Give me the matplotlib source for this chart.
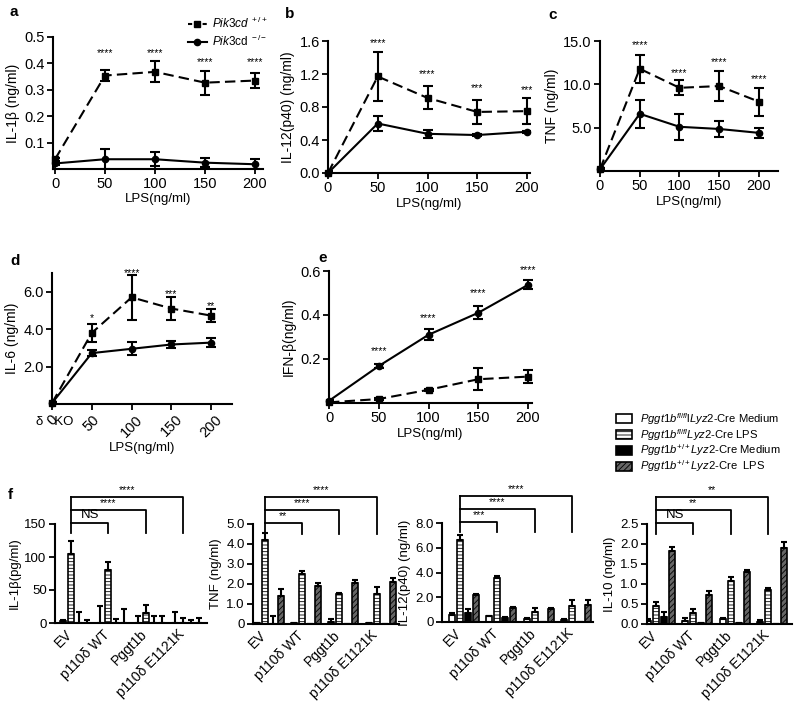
import matplotlib
matplotlib.use('Agg')
import matplotlib.pyplot as plt
from matplotlib.patches import Rectangle
from matplotlib.lines import Line2D
import numpy as np

plt.rcParams['font.family'] = ['Liberation Sans', 'DejaVu Sans']
plt.rcParams['mathtext.fontset'] = 'custom'
plt.rcParams['mathtext.rm'] = 'Liberation Sans'
plt.rcParams['mathtext.it'] = 'Liberation Sans:italic'
plt.rcParams['mathtext.bf'] = 'Liberation Sans:bold'
plt.rcParams['hatch.linewidth'] = 0.6
plt.rcParams['axes.linewidth'] = 1.5

# ---- data: panels a-e (LPS dose response) ----
lps = [0, 50, 100, 150, 200]

il1b_wt = [0.037, 0.354, 0.368, 0.327, 0.335]
il1b_wt_err = [0.005, 0.022, 0.04, 0.045, 0.03]
il1b_ko = [0.021, 0.037, 0.037, 0.024, 0.018]
il1b_ko_err = [0.005, 0.038, 0.027, 0.016, 0.019]
il1b_stars = ['****', '****', '****', '****']
il1b_star_y = [0.44, 0.44, 0.405, 0.405]

il12_wt = [0.0, 1.17, 0.91, 0.74, 0.75]
il12_wt_err = [0.02, 0.3, 0.14, 0.14, 0.16]
il12_ko = [0.0, 0.6, 0.475, 0.46, 0.5]
il12_ko_err = [0.02, 0.09, 0.05, 0.01, 0.01]
il12_stars = ['****', '****', '***', '***']
il12_star_y = [1.58, 1.2, 1.03, 1.01]

tnf_wt = [0.2, 11.8, 9.6, 9.8, 8.0]
tnf_wt_err = [0.1, 1.6, 0.85, 1.7, 1.6]
tnf_ko = [0.2, 6.6, 5.1, 4.85, 4.4]
tnf_ko_err = [0.1, 1.6, 1.5, 0.9, 0.6]
tnf_stars = ['****', '****', '****', '****']
tnf_star_y = [14.5, 11.3, 12.6, 10.6]

il6_wt = [0.05, 3.8, 5.7, 5.1, 4.72]
il6_wt_err = [0.05, 0.5, 1.2, 0.6, 0.33]
il6_ko = [0.05, 2.72, 2.95, 3.18, 3.28]
il6_ko_err = [0.05, 0.18, 0.35, 0.2, 0.25]
il6_stars = ['*', '****', '***', '**']
il6_star_y = [4.6, 7.0, 5.9, 5.25]

ifnb_wt = [0.003, 0.018, 0.06, 0.108, 0.12]
ifnb_wt_err = [0.003, 0.004, 0.004, 0.05, 0.03]
ifnb_ko = [0.01, 0.168, 0.31, 0.41, 0.537]
ifnb_ko_err = [0.005, 0.01, 0.025, 0.03, 0.02]
ifnb_stars = ['****', '****', '****', '****']
ifnb_star_y = [0.235, 0.385, 0.5, 0.605]

# ---- data: panel f (bars) ----
f_groups = ['EV', 'p110δ WT', 'Pggt1b', 'p110δ E1121K']

f_il1b_flmed = [3, 0, 0, 0]
f_il1b_flmed_err = [2, 26, 10, 16]
f_il1b_fllps = [105, 80, 15, 0]
f_il1b_fllps_err = [19, 12, 12, 7]
f_il1b_wtmed = [0, 0, 0, 0]
f_il1b_wtmed_err = [16, 6, 11, 4]
f_il1b_wtlps = [0, 0, 0, 0]
f_il1b_wtlps_err = [5, 21, 11, 7]

f_tnf_flmed = [0.05, 0.05, 0.1, 0.03]
f_tnf_flmed_err = [0.0, 0.0, 0.15, 0.0]
f_tnf_fllps = [4.18, 2.5, 1.52, 1.52]
f_tnf_fllps_err = [0.37, 0.13, 0.05, 0.35]
f_tnf_wtmed = [0.0, 0.0, 0.0, 0.0]
f_tnf_wtmed_err = [0.38, 0.0, 0.0, 0.0]
f_tnf_wtlps = [1.42, 1.88, 2.05, 2.1]
f_tnf_wtlps_err = [0.33, 0.17, 0.15, 0.2]

f_il12_flmed = [0.6, 0.46, 0.27, 0.19]
f_il12_flmed_err = [0.1, 0.06, 0.05, 0.05]
f_il12_fllps = [6.59, 3.58, 0.81, 1.27]
f_il12_fllps_err = [0.45, 0.12, 0.35, 0.5]
f_il12_wtmed = [0.73, 0.32, 0.0, 0.0]
f_il12_wtmed_err = [0.35, 0.1, 0.0, 0.0]
f_il12_wtlps = [2.15, 1.13, 1.08, 1.35]
f_il12_wtlps_err = [0.1, 0.08, 0.05, 0.45]

f_il10_flmed = [0.08, 0.08, 0.13, 0.05]
f_il10_flmed_err = [0.05, 0.08, 0.02, 0.05]
f_il10_fllps = [0.46, 0.27, 1.08, 0.86]
f_il10_fllps_err = [0.08, 0.1, 0.1, 0.04]
f_il10_wtmed = [0.17, 0.02, 0.02, 0.01]
f_il10_wtmed_err = [0.12, 0.0, 0.0, 0.0]
f_il10_wtlps = [1.82, 0.73, 1.3, 1.9]
f_il10_wtlps_err = [0.1, 0.1, 0.05, 0.15]

f_il1b_sig = ['NS', '****', '****']
f_tnf_sig = ['**', '****', '****']
f_il12_sig = ['***', '****', '****']
f_il10_sig = ['NS', '**', '**']

f_legend_labels = [r'$\mathit{Pggt1b}^{fl/fl}$l$\mathit{Lyz2}$-Cre Medium',
                   r'$\mathit{Pggt1b}^{fl/fl}\mathit{Lyz2}$-Cre LPS',
                   r'$\mathit{Pggt1b}^{+/+}\mathit{Lyz2}$-Cre Medium',
                   r'$\mathit{Pggt1b}^{+/+}\mathit{Lyz2}$-Cre  LPS']

W, H = 800, 709
fig = plt.figure(figsize=(W / 100, H / 100), dpi=100)


def px_axes(left, top, right, bottom):
    ax = fig.add_axes([left / W, 1 - bottom / H, (right - left) / W, (bottom - top) / H])
    for s in ['top', 'right']:
        ax.spines[s].set_visible(False)
    ax.tick_params(width=1.3, length=4, labelsize=10.5, pad=2)
    return ax


def line_panel(ax, wt, wt_err, ko, ko_err, stars, star_y, xmax, ylim, yticks, ylabels, ylabel):
    for y, e, ls, mk, ms in [(wt, wt_err, (0, (5, 2.5)), 's', 5), (ko, ko_err, '-', 'o', 4.5)]:
        c = ax.errorbar(lps, y, yerr=e, color='k', ls=ls, marker=mk, ms=ms, lw=1.5,
                        capsize=3.5, elinewidth=1.5, capthick=1.5)
        c[0].set_clip_on(False)
    for x, s, sy in zip(lps[1:], stars, star_y):
        ax.text(x, sy, s, ha='center', va='center', fontsize=7.5)
    ax.set_xlim(0, xmax)
    ax.set_ylim(*ylim)
    ax.set_xticks(lps)
    ax.set_yticks(yticks)
    ax.set_yticklabels(ylabels)
    ax.set_ylabel(ylabel, fontsize=10, labelpad=3)
    ax.set_xlabel('LPS(ng/ml)', fontsize=9.5, labelpad=2)


# a
ax = px_axes(53, 37, 263, 169)
line_panel(ax, il1b_wt, il1b_wt_err, il1b_ko, il1b_ko_err, il1b_stars, il1b_star_y,
           208, (0, 0.5), [0.1, 0.2, 0.3, 0.4, 0.5], ['0.1', '0.2', '0.3', '0.4', '0.5'],
           'IL-1β (ng/ml)')
ax.set_xlim(-2, 208)
ax.tick_params(axis='x', direction='inout', length=7)
handles = [Line2D([], [], color='k', ls=(0, (2, 1.5)), marker='s', ms=5, lw=1.5),
           Line2D([], [], color='k', ls='-', marker='o', ms=4.5, lw=1.5)]
ax.legend(handles, [r'$\mathit{Pik3cd}^{\ +/+}$', r'$\mathit{Pik3}$cd$^{\ -/-}$'],
          loc='upper left', bbox_to_anchor=(188 / W, 1 - 16 / H), bbox_transform=fig.transFigure,
          frameon=False, fontsize=8.5, handlelength=1.6, handletextpad=0.4, labelspacing=0.25,
          borderpad=0, borderaxespad=0)

# b
ax = px_axes(328, 41, 530, 173)
line_panel(ax, il12_wt, il12_wt_err, il12_ko, il12_ko_err, il12_stars, il12_star_y,
           203, (0, 1.6), [0, 0.4, 0.8, 1.2, 1.6], ['0.0', '0.4', '0.8', '1.2', '1.6'],
           'IL-12(p40) (ng/ml)')

# c
ax = px_axes(600, 41, 778, 171)
line_panel(ax, tnf_wt, tnf_wt_err, tnf_ko, tnf_ko_err, tnf_stars, tnf_star_y,
           224, (0, 15), [5, 10, 15], ['5.0', '10.0', '15.0'], 'TNF (ng/ml)')

# d
ax = px_axes(52, 273, 232, 404)
line_panel(ax, il6_wt, il6_wt_err, il6_ko, il6_ko_err, il6_stars, il6_star_y,
           226, (0, 7), [2, 4, 6], ['2.0', '4.0', '6.0'], 'IL-6 (ng/ml)')
for lab in ax.get_xticklabels():
    lab.set_rotation(45)
    lab.set_ha('center')
fig.text(55 / W, 1 - 422 / H, 'δ   KO', ha='center', va='center', fontsize=9.5)

# e
ax = px_axes(329, 271, 532, 403)
line_panel(ax, ifnb_wt, ifnb_wt_err, ifnb_ko, ifnb_ko_err, ifnb_stars, ifnb_star_y,
           204, (0, 0.6), [0.2, 0.4, 0.6], ['0.2', '0.4', '0.6'], 'IFN-β(ng/ml)')

# f
conds = [
    dict(fc='white', hatch=None),
    dict(fc='white', hatch='-----'),
    dict(fc='black', hatch=None),
    dict(fc='#666666', hatch='//////'),
]
bar_step = 0.215
bar_w = 0.16


def bar_panel(ax, series, errs, sig, xlim, ylim, yticks, ylabels, ylabel):
    gx = np.arange(len(f_groups))
    for j, (vals, err) in enumerate(zip(series, errs)):
        xs = gx + (j - 1.5) * bar_step
        ax.bar(xs, vals, width=bar_w, color=conds[j]['fc'], hatch=conds[j]['hatch'],
               edgecolor='k', linewidth=1.2)
        ax.errorbar(xs, vals, yerr=[np.zeros(len(vals)), err], fmt='none', ecolor='k',
                    elinewidth=1.5, capsize=2.5, capthick=1.5)
    ax.set_xlim(*xlim)
    ax.set_ylim(*ylim)
    ax.set_yticks(yticks)
    ax.set_yticklabels(ylabels)
    ax.set_xticks(gx)
    ax.set_xticklabels(f_groups, rotation=45, ha='right', fontsize=10)
    ax.tick_params(axis='x', length=0, pad=3)
    ax.tick_params(axis='y', labelsize=9.5)
    ax.set_ylabel(ylabel, fontsize=9.5, labelpad=3)
    # significance brackets between the fl/fl LPS bars
    tr = ax.get_xaxis_transform()
    x0 = gx[0] - 0.5 * bar_step
    levels = [1.01, 1.14, 1.27]
    lows = 0.905
    ax.plot([x0, x0], [lows, levels[-1]], color='k', lw=1.3, transform=tr, clip_on=False)
    for k, (lev, s) in enumerate(zip(levels, sig)):
        x1 = gx[k + 1] - 0.5 * bar_step
        ax.plot([x0, x1, x1], [lev, lev, lows], color='k', lw=1.3, transform=tr, clip_on=False)
        ax.text((x0 + x1) / 2, lev + 0.02, s, ha='center', va='bottom', transform=tr,
                fontsize=9.5 if s == 'NS' else 7.5)


ax = px_axes(55, 524, 207, 623)
bar_panel(ax, [f_il1b_flmed, f_il1b_fllps, f_il1b_wtmed, f_il1b_wtlps],
          [f_il1b_flmed_err, f_il1b_fllps_err, f_il1b_wtmed_err, f_il1b_wtlps_err],
          f_il1b_sig, (-0.537, 3.54), (0, 150), [0, 50, 100, 150], ['0', '50', '100', '150'],
          'IL-1β(pg/ml)')

ax = px_axes(253, 524, 399, 624)
bar_panel(ax, [f_tnf_flmed, f_tnf_fllps, f_tnf_wtmed, f_tnf_wtlps],
          [f_tnf_flmed_err, f_tnf_fllps_err, f_tnf_wtmed_err, f_tnf_wtlps_err],
          f_tnf_sig, (-0.42, 3.49), (0, 5), [0, 1, 2, 3, 4, 5],
          ['0', '1.0', '2.0', '3.0', '4.0', '5.0'], 'TNF (ng/ml)')

ax = px_axes(442, 523, 593, 622)
bar_panel(ax, [f_il12_flmed, f_il12_fllps, f_il12_wtmed, f_il12_wtlps],
          [f_il12_flmed_err, f_il12_fllps_err, f_il12_wtmed_err, f_il12_wtlps_err],
          f_il12_sig, (-0.59, 3.46), (0, 8), [0, 2, 4, 6, 8],
          ['0', '2.0', '4.0', '6.0', '8.0'], 'IL-12(p40) (ng/ml)')

ax = px_axes(647, 524, 792, 624)
bar_panel(ax, [f_il10_flmed, f_il10_fllps, f_il10_wtmed, f_il10_wtlps],
          [f_il10_flmed_err, f_il10_fllps_err, f_il10_wtmed_err, f_il10_wtlps_err],
          f_il10_sig, (-0.35, 3.54), (0, 2.5), [0, 0.5, 1.0, 1.5, 2.0, 2.5],
          ['0.0', '0.5', '1.0', '1.5', '2.0', '2.5'], 'IL-10 (ng/ml)')

# legend for f, laid out by hand so the rows sit tight
for i, (c, lab) in enumerate(zip(conds, f_legend_labels)):
    yc = 419 + i * 15.7
    fig.add_artist(Rectangle((616 / W, 1 - (yc + 4.5) / H), 16 / W, 9 / H,
                             transform=fig.transFigure, facecolor=c['fc'], hatch=c['hatch'],
                             edgecolor='k', linewidth=1.2))
    fig.text(640 / W, 1 - yc / H, lab, ha='left', va='center', fontsize=8.1)

# panel letters
for lab, x, y in [('a', 10, 12), ('b', 285, 14), ('c', 548, 15), ('d', 10, 261),
                  ('e', 318, 258), ('f', 8, 495)]:
    fig.text(x / W, 1 - y / H, lab, fontsize=11, fontweight='bold', ha='left', va='center')

fig.savefig('out.png', dpi=100)
